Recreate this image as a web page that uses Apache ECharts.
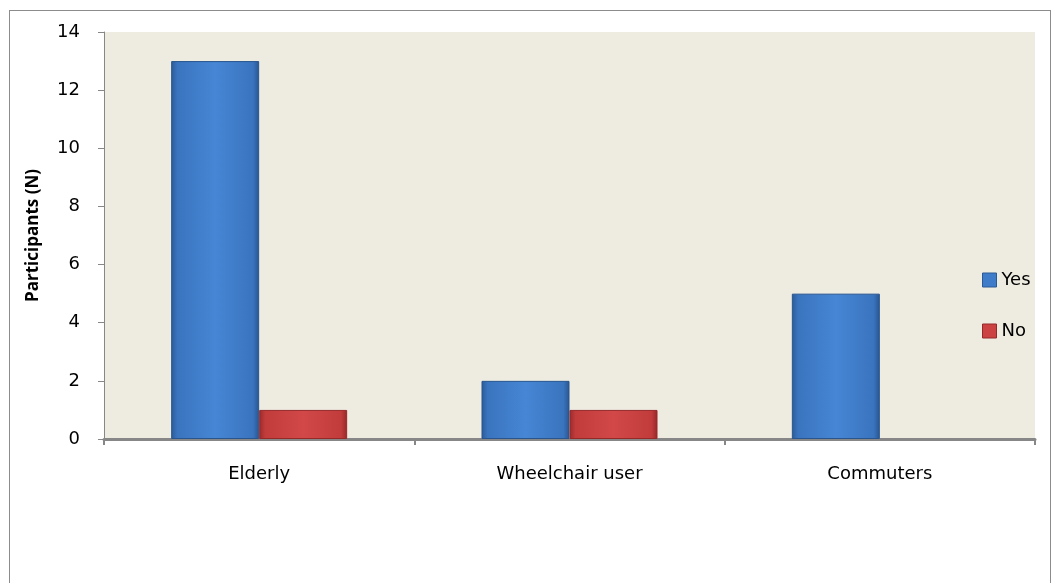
<!DOCTYPE html>
<html>
<head>
<meta charset="utf-8">
<script src="https://cdn.jsdelivr.net/npm/echarts@6/dist/echarts.min.js"></script>
<style>
  html, body { margin: 0; padding: 0; background: #ffffff; }
  #frame { position: absolute; left: 9px; top: 10px; width: 1042px; height: 600px;
           border: 1px solid #8c8c8c; box-sizing: border-box; }
  #chart { position: absolute; left: 0; top: 0; width: 1053px; height: 583px; }
</style>
</head>
<body>
<div id="frame"></div>
<div id="chart"></div>
<script>
// Participants per group, split by answer
const categories = ['Elderly', 'Wheelchair user', 'Commuters'];
const yesValues = [13, 2, 5];
const noValues = [1, 1, 0];
const seriesNames = ['Yes', 'No'];

const FONT = '"DejaVu Sans", "Open Sans", sans-serif';
const NAME_FONT = '"Open Sans", "Noto Sans", sans-serif';

function hGrad(stops) {
  return new echarts.graphic.LinearGradient(0, 0, 1, 0,
    stops.map(([o, c]) => ({ offset: o, color: c })));
}

const blueFill = hGrad([[0, '#2a5a96'], [0.07, '#3a74bf'], [0.5, '#4686d4'], [0.93, '#3a74bf'], [1, '#28558e']]);
const redFill = hGrad([[0, '#9a2a2a'], [0.07, '#c23c3c'], [0.5, '#d24848'], [0.93, '#c23c3c'], [1, '#962828']]);

// zero-height bars are left undrawn
const asItems = vals => vals.map(v => v === 0 ? { value: v, itemStyle: { opacity: 0 } } : v);

const chart = echarts.init(document.getElementById('chart'), null, { renderer: 'canvas' });
chart.setOption({
  animation: false,
  backgroundColor: 'transparent',
  grid: { left: 104, right: 18, top: 32, bottom: 144, show: true,
          backgroundColor: '#eeebe1', borderWidth: 0 },
  legend: {
    orient: 'vertical', left: 977, top: 266,
    itemWidth: 14, itemHeight: 14, itemGap: 33,
    icon: 'rect',
    textStyle: { fontFamily: FONT, fontSize: 18, color: '#000' },
    data: [
      { name: 'Yes', itemStyle: { color: '#3e7cc9', borderColor: '#2a5a96', borderWidth: 1 } },
      { name: 'No', itemStyle: { color: '#cc4242', borderColor: '#962828', borderWidth: 1 } }
    ]
  },
  xAxis: {
    type: 'category', data: categories,
    axisLine: { lineStyle: { color: '#878787', width: 3 } },
    axisTick: { show: true, alignWithLabel: false, length: 6, lineStyle: { color: '#878787', width: 2 } },
    axisLabel: { fontFamily: FONT, fontSize: 18, color: '#000', margin: 26 }
  },
  yAxis: {
    type: 'value', min: 0, max: 14, interval: 2,
    name: 'Participants (N)', nameLocation: 'middle', nameGap: 62, nameRotate: 90,
    nameTextStyle: { fontFamily: NAME_FONT, fontSize: 17, fontWeight: 'bold', color: '#000' },
    axisLine: { show: true, lineStyle: { color: '#878787', width: 1 } },
    axisTick: { show: true, length: 6, lineStyle: { color: '#878787' } },
    splitLine: { show: false },
    axisLabel: { fontFamily: FONT, fontSize: 18, color: '#000', margin: 24 }
  },
  series: [
    { name: seriesNames[0], type: 'bar', data: asItems(yesValues), barWidth: 88, barGap: '0%',
      itemStyle: { color: blueFill, borderColor: '#28558e', borderWidth: 1 } },
    { name: seriesNames[1], type: 'bar', data: asItems(noValues), barWidth: 88,
      itemStyle: { color: redFill, borderColor: '#962828', borderWidth: 1 } }
  ]
});
</script>
</body>
</html>
